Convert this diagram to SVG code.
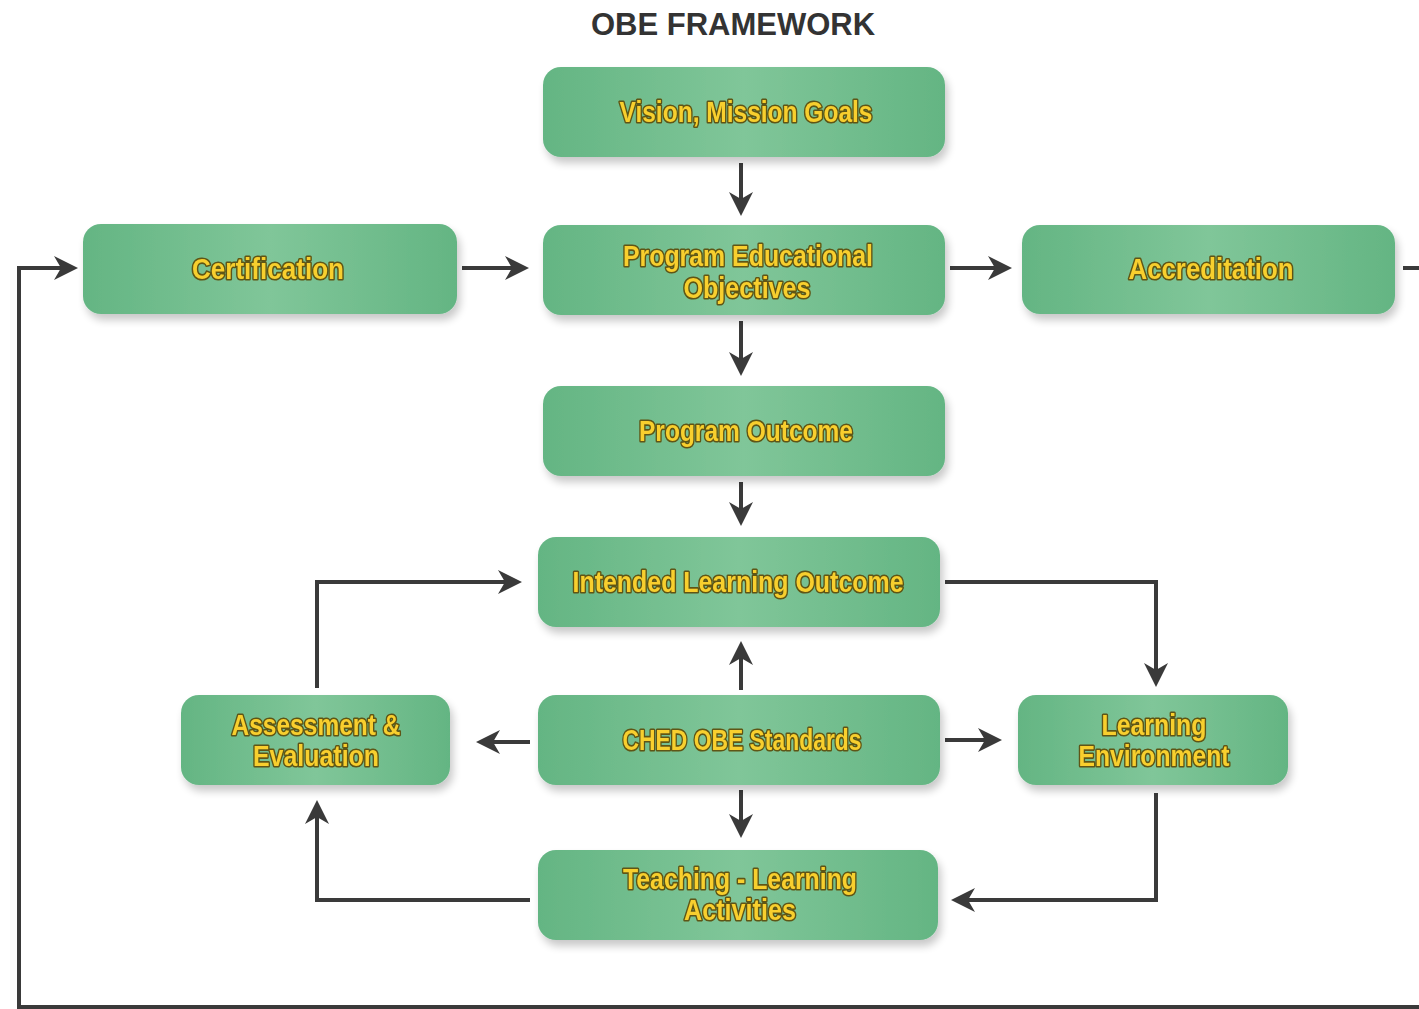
<svg xmlns="http://www.w3.org/2000/svg" width="1419" height="1009" viewBox="0 0 1419 1009">
<style>
.box{fill:url(#g);}
.lbl{font-family:"Liberation Sans Narrow","Liberation Sans","DejaVu Sans Condensed",sans-serif;font-weight:900;font-size:29px;fill:#f8cf2e;stroke:#5e5413;stroke-width:3.2;paint-order:stroke;stroke-linejoin:round;text-anchor:middle;}
.title{font-family:"Liberation Sans",Arial,sans-serif;font-weight:bold;font-size:31px;fill:#333;text-anchor:middle;}
.c{fill:none;stroke:#3a3a3a;stroke-width:4;}
</style>
<defs>
<linearGradient id="g" x1="0" y1="0" x2="1" y2="0">
<stop offset="0" stop-color="#64b583"/>
<stop offset="0.5" stop-color="#80c699"/>
<stop offset="1" stop-color="#64b583"/>
</linearGradient>
<filter id="sh" x="-10%" y="-20%" width="120%" height="150%">
<feGaussianBlur in="SourceAlpha" stdDeviation="4"/>
<feOffset dx="3" dy="6" result="b"/>
<feComponentTransfer><feFuncA type="linear" slope="0.22"/></feComponentTransfer>
<feMerge><feMergeNode/><feMergeNode in="SourceGraphic"/></feMerge>
</filter>
<marker id="ah" viewBox="0 0 12 12" refX="10" refY="6" markerWidth="6" markerHeight="6" markerUnits="strokeWidth" orient="auto">
<path d="M0,0 L12,6 L0,12 L3.5,6 z" fill="#3a3a3a"/>
</marker>
</defs>
<rect width="1419" height="1009" fill="#fff"/>
<text class="title" x="733" y="35">OBE FRAMEWORK</text>

<g id="connectors">
<path class="c" d="M741,163 V212" marker-end="url(#ah)"/>
<path class="c" d="M741,321 V372" marker-end="url(#ah)"/>
<path class="c" d="M741,482 V522" marker-end="url(#ah)"/>
<path class="c" d="M462,268 H525" marker-end="url(#ah)"/>
<path class="c" d="M950,268 H1008" marker-end="url(#ah)"/>
<path class="c" d="M1403,268 H1425 V1007 H19 V268 H74" marker-end="url(#ah)"/>
<path class="c" d="M945,582 H1156 V683" marker-end="url(#ah)"/>
<path class="c" d="M317,688 V582 H518" marker-end="url(#ah)"/>
<path class="c" d="M741,690 V645" marker-end="url(#ah)"/>
<path class="c" d="M530,742 H480" marker-end="url(#ah)"/>
<path class="c" d="M945,740 H998" marker-end="url(#ah)"/>
<path class="c" d="M741,790 V834" marker-end="url(#ah)"/>
<path class="c" d="M1156,793 V900 H955" marker-end="url(#ah)"/>
<path class="c" d="M530,900 H317 V804" marker-end="url(#ah)"/>
</g>

<g id="vision" filter="url(#sh)"><rect class="box" x="543" y="67" width="402" height="90" rx="18"/>
<text class="lbl" x="746" y="122" textLength="253" lengthAdjust="spacingAndGlyphs">Vision, Mission Goals</text></g>
<g id="certification" filter="url(#sh)"><rect class="box" x="83" y="224" width="374" height="90" rx="18"/>
<text class="lbl" x="268" y="279" textLength="152" lengthAdjust="spacingAndGlyphs">Certification</text></g>
<g id="peo" filter="url(#sh)"><rect class="box" x="543" y="225" width="402" height="90" rx="18"/>
<text class="lbl" x="748" y="266" textLength="250" lengthAdjust="spacingAndGlyphs">Program Educational</text>
<text class="lbl" x="747" y="298" textLength="127" lengthAdjust="spacingAndGlyphs">Objectives</text></g>
<g id="accreditation" filter="url(#sh)"><rect class="box" x="1022" y="225" width="373" height="89" rx="18"/>
<text class="lbl" x="1211" y="279" textLength="165" lengthAdjust="spacingAndGlyphs">Accreditation</text></g>
<g id="po" filter="url(#sh)"><rect class="box" x="543" y="386" width="402" height="90" rx="18"/>
<text class="lbl" x="746" y="441" textLength="214" lengthAdjust="spacingAndGlyphs">Program Outcome</text></g>
<g id="ilo" filter="url(#sh)"><rect class="box" x="538" y="537" width="402" height="90" rx="18"/>
<text class="lbl" x="738" y="592" textLength="331" lengthAdjust="spacingAndGlyphs">Intended Learning Outcome</text></g>
<g id="assessment" filter="url(#sh)"><rect class="box" x="181" y="695" width="269" height="90" rx="18"/>
<text class="lbl" x="316" y="735" textLength="169" lengthAdjust="spacingAndGlyphs">Assessment &amp;</text>
<text class="lbl" x="316" y="766" textLength="126" lengthAdjust="spacingAndGlyphs">Evaluation</text></g>
<g id="ched" filter="url(#sh)"><rect class="box" x="538" y="695" width="402" height="90" rx="18"/>
<text class="lbl" x="742" y="750" textLength="239" lengthAdjust="spacingAndGlyphs">CHED OBE Standards</text></g>
<g id="learning-env" filter="url(#sh)"><rect class="box" x="1018" y="695" width="270" height="90" rx="18"/>
<text class="lbl" x="1154" y="735" textLength="105" lengthAdjust="spacingAndGlyphs">Learning</text>
<text class="lbl" x="1154" y="766" textLength="151" lengthAdjust="spacingAndGlyphs">Environment</text></g>
<g id="teaching" filter="url(#sh)"><rect class="box" x="538" y="850" width="400" height="90" rx="18"/>
<text class="lbl" x="740" y="889" textLength="234" lengthAdjust="spacingAndGlyphs">Teaching - Learning</text>
<text class="lbl" x="740" y="920" textLength="112" lengthAdjust="spacingAndGlyphs">Activities</text></g>
</svg>
